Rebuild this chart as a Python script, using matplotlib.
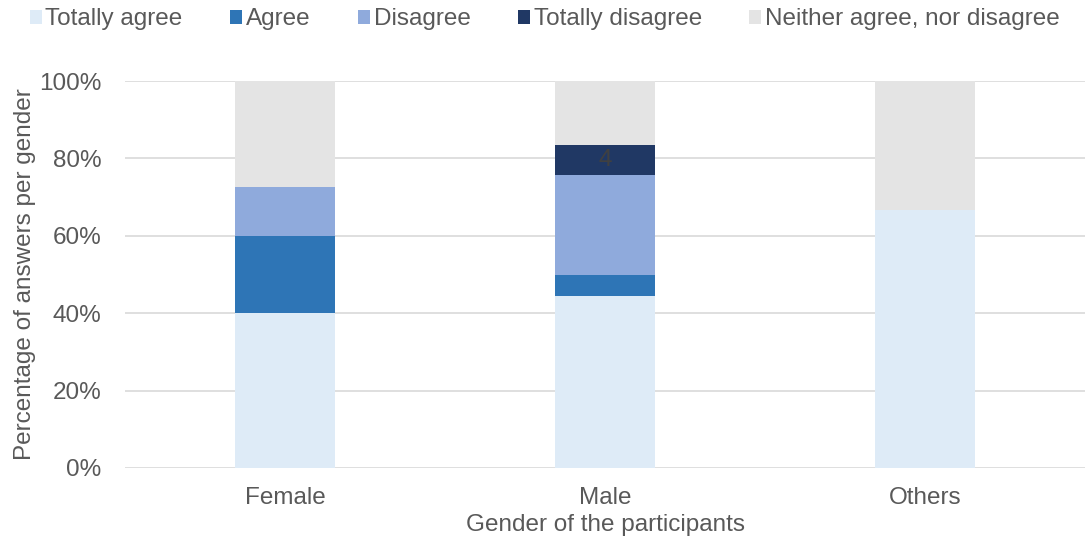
import matplotlib.pyplot as plt
import numpy as np
from matplotlib.ticker import PercentFormatter

plt.rcParams['font.family'] = ['Liberation Sans', 'DejaVu Sans']

# answer shares per gender (%)
genders = ["Female", "Male", "Others"]
answers = ["Totally agree", "Agree", "Disagree", "Totally disagree",
           "Neither agree, nor disagree"]
totally_agree = [40.0, 44.4, 66.7]
agree = [20.0, 5.6, 0.0]
disagree = [12.7, 25.6, 0.0]
totally_disagree = [0.0, 7.8, 0.0]
neither = [27.3, 16.6, 33.3]
count_labels = ["", "4", ""]  # count shown in the totally-disagree segment

colors = ["#DEEBF7", "#2E75B6", "#8FAADC", "#203864", "#E4E4E4"]
txt = "#595959"
fs = 17.5

fig = plt.figure(figsize=(10.85, 5.41), dpi=100)
ax = fig.add_axes([125 / 1085, 1 - 468 / 541, 960 / 1085, 387 / 541])

x = np.arange(len(genders))
bottom = np.zeros(len(genders))
series = [totally_agree, agree, disagree, totally_disagree, neither]
for name, vals, c in zip(answers, series, colors):
    b = ax.bar(x, vals, 0.31, bottom=bottom, color=c, label=name, zorder=3)
    if name == "Totally disagree":
        ax.bar_label(b, labels=count_labels, label_type="center",
                     color="#404040", fontsize=fs)
    bottom += np.array(vals)

ax.set_xlim(-0.5, 2.5)
ax.set_ylim(0, 100)
ax.set_yticks(np.arange(0, 101, 20))
ax.yaxis.set_major_formatter(PercentFormatter(decimals=0))
ax.set_xticks(x)
ax.set_xticklabels(genders)
ax.tick_params(axis="y", length=0, labelsize=fs, colors=txt, pad=17)
ax.tick_params(axis="x", length=0, labelsize=fs, colors=txt, pad=14)
ax.grid(axis="y", color="#D9D9D9", linewidth=1.2, zorder=0)
for s in ax.spines.values():
    s.set_visible(False)

ax.set_ylabel("Percentage of answers per gender", fontsize=fs, color=txt,
              labelpad=2)
ax.set_xlabel("Gender of the participants", fontsize=fs, color=txt, labelpad=3)

fig.legend(loc="upper center", bbox_to_anchor=(0.502, 1.025), ncol=5,
           frameon=False, fontsize=fs, labelcolor=txt, handlelength=0.5,
           handleheight=0.5, handletextpad=0.15, columnspacing=1.95)

fig.savefig("out.png", dpi=100)
